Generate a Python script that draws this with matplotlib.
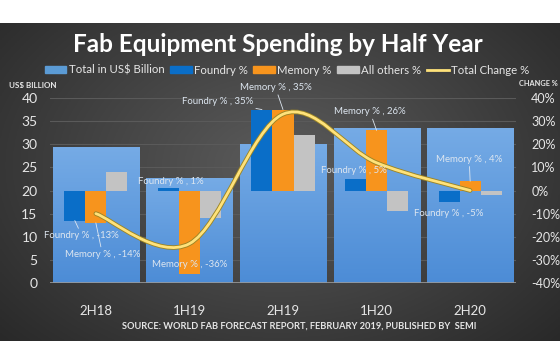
import numpy as np
import matplotlib
matplotlib.use("Agg")
import matplotlib.pyplot as plt
from matplotlib.path import Path
from matplotlib.patches import PathPatch, Patch
from matplotlib.lines import Line2D
import matplotlib.patheffects as pe

plt.rcParams['font.family'] = ['Lato', 'DejaVu Sans']

# ---- data ----
categories = ["2H18", "1H19", "2H19", "1H20", "2H20"]
total_bn = [29.3, 22.6, 30.0, 33.6, 33.6]
foundry_pct = [-13, 1, 35, 5, -5]
memory_pct = [-14, -36, 35, 26, 4]
others_pct = [8, -12, 24, -9, -2]
total_change_pct = [-10, -23, 33, 12, 0]
left_ticks = [0, 5, 10, 15, 20, 25, 30, 35, 40]
right_ticks = [-40, -30, -20, -10, 0, 10, 20, 30, 40]

W, H = 560, 350
fig = plt.figure(figsize=(W / 100, H / 100), dpi=100)
fig.patch.set_facecolor('white')

# background dark panel with radial gradient
bg = fig.add_axes([0, (H - 341) / H, 1, (341 - 22.5) / H])
bg.set_axis_off()
yy, xx = np.mgrid[0:1:200j, 0:1:300j]
r = np.sqrt(((xx - 0.5) / 0.75) ** 2 + ((yy - 0.55) / 0.9) ** 2)
g = np.clip(0.36 - 0.22 * r, 0.13, 0.4)
img = np.dstack([g, g, g])
bg.imshow(img, extent=[0, 1, 0, 1], aspect='auto', origin='lower')
bg.set_xlim(0, 1)
bg.set_ylim(0, 1)

ax = fig.add_axes([50 / W, (H - 283) / H, 466 / W, 185 / H])
ax.set_facecolor('none')
x = np.arange(len(categories))

tc = '#e6e6e6'
# total bars with vertical gradient
bars = ax.bar(x, total_bn, width=0.92, color='#5b9bd5', zorder=2)
grad = np.linspace(0, 1, 100).reshape(-1, 1)
top_c = np.array([0.46, 0.67, 0.90])
bot_c = np.array([0.30, 0.55, 0.84])
gimg = bot_c[None, None, :] * (1 - grad[:, :, None]) + top_c[None, None, :] * grad[:, :, None]
for b in bars:
    bx, bw_, bh = b.get_x(), b.get_width(), b.get_height()
    im = ax.imshow(gimg, extent=[bx, bx + bw_, 0, bh], aspect='auto', origin='lower', zorder=2.1)
    im.set_clip_path(b)
ax.set_xlim(-0.49, 4.49)
ax.set_ylim(0, 40)

for yv in left_ticks[1:]:
    ax.axhline(yv, color='#5a5a5a', lw=0.8, zorder=1)
ax.axhline(0, color='#9a9a9a', lw=1.2, zorder=3)

ax.set_yticks(left_ticks)
ax.set_yticklabels([str(v) for v in left_ticks], color=tc, fontsize=10)
ax.set_xticks(x)
ax.set_xticklabels(categories, color=tc, fontsize=9.5)
ax.tick_params(length=0, pad=16, axis='x')
ax.tick_params(length=0, pad=9, axis='y')
for s in ax.spines.values():
    s.set_visible(False)

ax2 = ax.twinx()
ax2.set_ylim(-40, 40)
ax2.set_yticks(right_ticks)
ax2.set_yticklabels([f"{v}%" for v in right_ticks], color=tc, fontsize=9)
ax2.tick_params(length=0, pad=11)
for s in ax2.spines.values():
    s.set_visible(False)

bw = 0.225
ax2.bar(x - bw, foundry_pct, width=bw, color='#0a6ec8', zorder=3)
ax2.bar(x, memory_pct, width=bw, color='#f7941d', zorder=3)
ax2.bar(x + bw, others_pct, width=bw, color='#c3c3c3', zorder=3)

# smoothed line (Catmull-Rom -> cubic bezier)
px = x.astype(float)
py = np.array(total_change_pct, dtype=float)
verts = [(px[0], py[0])]
codes = [Path.MOVETO]
n = len(px)
for i in range(n - 1):
    p0 = (px[max(i - 1, 0)], py[max(i - 1, 0)])
    p1 = (px[i], py[i])
    p2 = (px[i + 1], py[i + 1])
    p3 = (px[min(i + 2, n - 1)], py[min(i + 2, n - 1)])
    c1 = (p1[0] + (p2[0] - p0[0]) / 6, p1[1] + (p2[1] - p0[1]) / 6)
    c2 = (p2[0] - (p3[0] - p1[0]) / 6, p2[1] - (p3[1] - p1[1]) / 6)
    verts += [c1, c2, p2]
    codes += [Path.CURVE4] * 3
path = Path(verts, codes)
lp = PathPatch(path, facecolor='none', edgecolor='#ffe27a', lw=2.0, zorder=5,
               capstyle='round',
               path_effects=[pe.Stroke(linewidth=3.3, foreground='#9c8525'), pe.Normal()])
ax2.add_patch(lp)

# data labels
lc = '#dde6f0'
fs = 6.9
lbl = dict(color=lc, fontsize=fs, ha='center', va='center', zorder=6)
arw = dict(arrowstyle='-', color='#dde6f0', lw=0.6, shrinkA=0, shrinkB=0)

def label(i, off, vals, name, tx, ty, leader=True):
    bx = x[i] + off
    by = vals[i]
    txt = f"{name} % , {vals[i]}%"
    if leader:
        ax2.annotate(txt, xy=(bx, by), xytext=(tx, ty), arrowprops=arw, **lbl)
    else:
        ax2.text(tx, ty, txt, **lbl)

label(0, -bw, foundry_pct, "Foundry", -0.15, -19.5)
label(0, 0, memory_pct, "Memory", 0.07, -27.5)
label(1, -bw, foundry_pct, "Foundry", 0.8, 4.0, leader=False)
label(1, 0, memory_pct, "Memory", 1.0, -32, leader=False)
label(2, -bw, foundry_pct, "Foundry", 1.3, 38.5)
label(2, 0, memory_pct, "Memory", 1.92, 44.5)
label(3, 0, memory_pct, "Memory", 2.93, 34)
label(3, -bw, foundry_pct, "Foundry", 2.76, 8.5, leader=False)
label(4, 0, memory_pct, "Memory", 3.99, 13.5)
label(4, -bw, foundry_pct, "Foundry", 3.77, -10, leader=False)

# axis titles
fig.text(9 / W, 1 - 86 / H, "US$ BILLION", color=tc, fontsize=5.8, fontweight='bold', va='center', ha='left')
fig.text(558 / W, 1 - 84 / H, "CHANGE %", color=tc, fontsize=5.3, fontweight='bold', va='center', ha='right')

# title
fig.text(0.497, 1 - 45 / H, "Fab Equipment Spending by Half Year", color='white', fontsize=17.5,
         fontweight='bold', ha='center', va='center')

# legend
handles = [Patch(color='#5b9bd5', label='Total in US$ Billion'),
           Patch(color='#0a6ec8', label='Foundry %'),
           Patch(color='#f7941d', label='Memory %'),
           Patch(color='#c3c3c3', label='All others %'),
           Line2D([], [], color='#ffe27a', lw=2, label='Total Change %')]
leg = fig.legend(handles=handles, loc='center', bbox_to_anchor=(287 / W, 1 - 70 / H), ncol=5,
                 frameon=False, fontsize=8.2, labelcolor=tc, handlelength=1.9, handleheight=0.55,
                 handletextpad=0.2, columnspacing=0.5)

# source
fig.text(299 / W, 1 - 326 / H, "SOURCE: WORLD FAB FORECAST REPORT, FEBRUARY 2019, PUBLISHED BY  SEMI",
         color=tc, fontsize=6.7, fontweight='bold', ha='center', va='center')

fig.savefig('out.png', dpi=100, facecolor='white')
